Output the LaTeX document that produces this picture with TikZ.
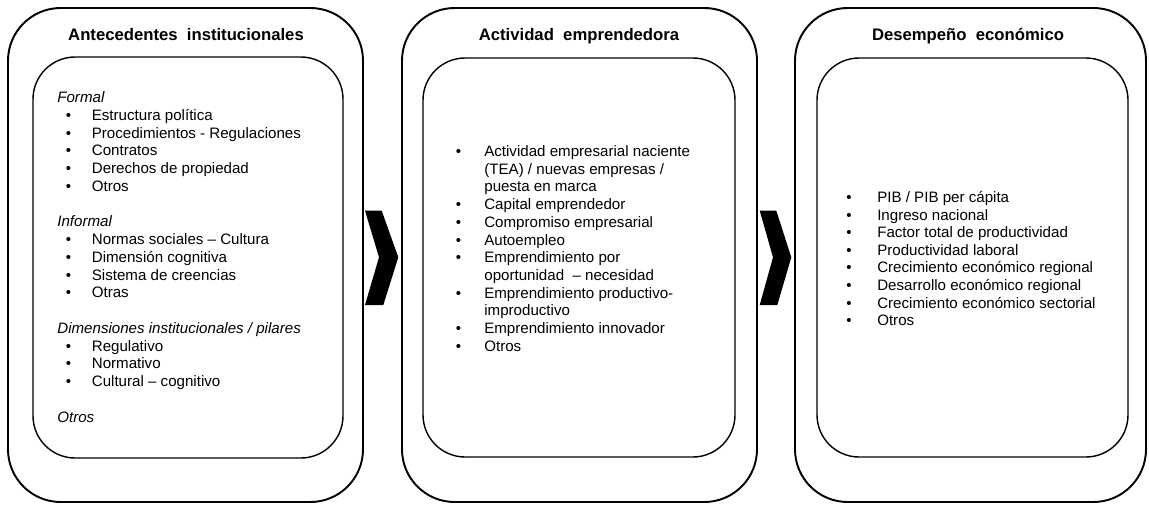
\documentclass[tikz,border=0pt]{standalone}
\usepackage{fontspec}
\setmainfont{Liberation Sans}
\usetikzlibrary{fit}

\newcommand{\bodyfont}{\fontsize{8.6}{10}\selectfont}
\newcommand{\headfont}{\fontsize{9.5}{11}\selectfont\bfseries}
\newcommand{\bulletbox}[1]{\makebox[#1][l]{\textbullet}}

\begin{document}
\begin{tikzpicture}[x=0.02cm, y=-0.02cm,
  outerbox/.style={draw, line width=1.1pt, rounded corners=30pt, inner sep=0pt},
  innerbox/.style={draw, line width=0.8pt, rounded corners=24pt, inner sep=0pt},
  heading/.style={anchor=base, inner sep=0pt, font=\headfont},
  entry/.style={anchor=base west, inner sep=0pt, font=\bodyfont}]
\useasboundingbox (0,0) rectangle (1149,504);

% the three blocks
\node[outerbox, fit={(8,8) (363,502)}] (antOut) {};
\node[innerbox, fit={(33,57) (343,458)}] (antIn) {};
\node[outerbox, fit={(402,8) (757,502)}] (actOut) {};
\node[innerbox, fit={(423,58) (735,457)}] (actIn) {};
\node[outerbox, fit={(795,8) (1146,502)}] (desOut) {};
\node[innerbox, fit={(817,58) (1128,457)}] (desIn) {};

\node[heading] (antTitle) at (186,40) {Antecedentes~ institucionales};
\node[heading] (actTitle) at (579,40) {Actividad~ emprendedora};
\node[heading] (desTitle) at (968,40) {Desempeño~ económico};

% chevrons
\fill (365,210.7) -- (381.7,210.7) -- (398.3,257.3) -- (383.3,305) -- (365,305) -- (379,257.3) -- cycle;
\fill (759.7,210.7) -- (776.3,210.7) -- (791.3,257.3) -- (777.3,305) -- (759.7,305) -- (773,257.3) -- cycle;

% antecedentes
\node[entry] (ant0) at (57,102.5) {\itshape Formal};
\node[entry] (ant1) at (65.5,120.25) {\bulletbox{14.8pt}Estructura política};
\node[entry] (ant2) at (65.5,138) {\bulletbox{14.8pt}Procedimientos - Regulaciones};
\node[entry] (ant3) at (65.5,155.75) {\bulletbox{14.8pt}Contratos};
\node[entry] (ant4) at (65.5,173.5) {\bulletbox{14.8pt}Derechos de propiedad};
\node[entry] (ant5) at (65.5,191.25) {\bulletbox{14.8pt}Otros};
\node[entry] (ant6) at (57,226.75) {\itshape Informal};
\node[entry] (ant7) at (65.5,244.5) {\bulletbox{14.8pt}Normas sociales – Cultura};
\node[entry] (ant8) at (65.5,262.25) {\bulletbox{14.8pt}Dimensión cognitiva};
\node[entry] (ant9) at (65.5,280) {\bulletbox{14.8pt}Sistema de creencias};
\node[entry] (ant10) at (65.5,297.75) {\bulletbox{14.8pt}Otras};
\node[entry] (ant11) at (57,333.25) {\itshape Dimensiones institucionales / pilares};
\node[entry] (ant12) at (65.5,351) {\bulletbox{14.8pt}Regulativo};
\node[entry] (ant13) at (65.5,368.75) {\bulletbox{14.8pt}Normativo};
\node[entry] (ant14) at (65.5,386.5) {\bulletbox{14.8pt}Cultural – cognitivo};
\node[entry] (ant15) at (57,422) {\itshape Otros};

% actividad
\node[entry] (act1) at (455.5,156.5) {\bulletbox{16.2pt}Actividad empresarial naciente};
\node[entry] (act2) at (484,174.2) {(TEA) / nuevas empresas /};
\node[entry] (act3) at (484,191.9) {puesta en marca};
\node[entry] (act4) at (455.5,209.6) {\bulletbox{16.2pt}Capital emprendedor};
\node[entry] (act5) at (455.5,227.3) {\bulletbox{16.2pt}Compromiso empresarial};
\node[entry] (act6) at (455.5,245) {\bulletbox{16.2pt}Autoempleo};
\node[entry] (act7) at (455.5,262.7) {\bulletbox{16.2pt}Emprendimiento por};
\node[entry] (act8) at (484,280.4) {oportunidad ~– necesidad};
\node[entry] (act9) at (455.5,298.1) {\bulletbox{16.2pt}Emprendimiento productivo-};
\node[entry] (act10) at (484,315.8) {improductivo};
\node[entry] (act11) at (455.5,333.5) {\bulletbox{16.2pt}Emprendimiento innovador};
\node[entry] (act12) at (455.5,351.2) {\bulletbox{16.2pt}Otros};

% desempeno
\node[entry] (des1) at (846,202.5) {\bulletbox{17.6pt}PIB / PIB per cápita};
\node[entry] (des2) at (846,220.1) {\bulletbox{17.6pt}Ingreso nacional};
\node[entry] (des3) at (846,237.7) {\bulletbox{17.6pt}Factor total de productividad};
\node[entry] (des4) at (846,255.3) {\bulletbox{17.6pt}Productividad laboral};
\node[entry] (des5) at (846,272.9) {\bulletbox{17.6pt}Crecimiento económico regional};
\node[entry] (des6) at (846,290.5) {\bulletbox{17.6pt}Desarrollo económico regional};
\node[entry] (des7) at (846,308.1) {\bulletbox{17.6pt}Crecimiento económico sectorial};
\node[entry] (des8) at (846,325.7) {\bulletbox{17.6pt}Otros};
\end{tikzpicture}
\end{document}
